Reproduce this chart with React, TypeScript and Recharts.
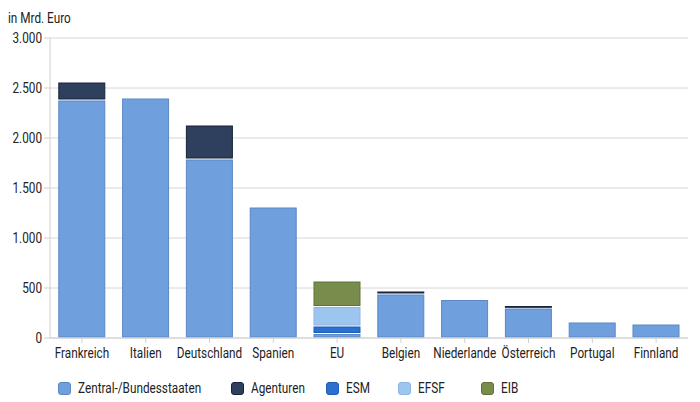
import { BarChart, Bar, XAxis, YAxis, CartesianGrid } from "recharts";

const categories = [
  "Frankreich",
  "Italien",
  "Deutschland",
  "Spanien",
  "EU",
  "Belgien",
  "Niederlande",
  "Österreich",
  "Portugal",
  "Finnland",
];
const zentral = [2380, 2400, 1790, 1310, 45, 440, 385, 300, 160, 140];
const agenturen = [180, 0, 340, 0, 0, 30, 0, 25, 0, 0];
const esm = [0, 0, 0, 0, 75, 0, 0, 0, 0, 0];
const efsf = [0, 0, 0, 0, 195, 0, 0, 0, 0, 0];
const eib = [0, 0, 0, 0, 255, 0, 0, 0, 0, 0];
const yTicks = [0, 500, 1000, 1500, 2000, 2500, 3000];

const series = [
  { key: "zentral", name: "Zentral-/Bundesstaaten", fill: "#6f9fdc", stroke: "#5a88c6" },
  { key: "agenturen", name: "Agenturen", fill: "#2f3f5e", stroke: "#17233a" },
  { key: "esm", name: "ESM", fill: "#2a6fd1", stroke: "#1f5cb3" },
  { key: "efsf", name: "EFSF", fill: "#9cc5f0", stroke: "#8ab6e6" },
  { key: "eib", name: "EIB", fill: "#788c4c", stroke: "#5f7238" },
];

const data = categories.map((name, i) => ({
  name,
  zentral: zentral[i],
  agenturen: agenturen[i],
  esm: esm[i],
  efsf: efsf[i],
  eib: eib[i],
}));

const FONT = "Roboto, 'DejaVu Sans', sans-serif";
const SQUEEZE = 0.84;

const fmt = (v: number) => v.toLocaleString("de-DE");

// Roboto horizontal gestaucht, damit es wie Roboto Condensed aussieht
const XTick = (props: any) => {
  const { x, y, payload } = props;
  return (
    <text
      transform={`translate(${x},${y + 13}) scale(${SQUEEZE},1)`}
      textAnchor="middle"
      fontSize={14}
      fontFamily={FONT}
      fill="#222"
    >
      {payload.value}
    </text>
  );
};

const YTick = (props: any) => {
  const { x, y, payload } = props;
  return (
    <text
      transform={`translate(${x},${y + 5}) scale(${SQUEEZE},1)`}
      textAnchor="end"
      fontSize={14}
      fontFamily={FONT}
      fill="#222"
    >
      {fmt(payload.value)}
    </text>
  );
};

const segment = (fill: string, stroke: string) => (props: any) => {
  const { x, y, width, height } = props;
  if (!height || height <= 0) return <g />;
  const h = Math.max(height - 2, 0.8);
  return (
    <rect
      x={x + 0.5}
      y={y + 1}
      width={width - 1}
      height={h}
      fill={fill}
      stroke={stroke}
      strokeWidth={1}
    />
  );
};

const squeezed = {
  display: "inline-block",
  transform: `scaleX(${SQUEEZE})`,
  transformOrigin: "left center",
};

const legendLeft = [58, 231, 326, 398, 481];

export default function App() {
  return (
    <div
      style={{
        position: "absolute",
        left: 0,
        top: 0,
        width: 700,
        height: 402,
        background: "#fff",
        fontFamily: FONT,
      }}
    >
      <div
        style={{
          position: "absolute",
          left: 8,
          top: 10,
          fontSize: 14,
          color: "#222",
          whiteSpace: "nowrap",
        }}
      >
        <span style={squeezed}>in Mrd. Euro</span>
      </div>
      <BarChart
        width={700}
        height={402}
        data={data}
        margin={{ top: 38, right: 12, bottom: 40, left: 0 }}
        barCategoryGap="13%"
      >
        <CartesianGrid vertical={false} stroke="#d6d6d6" />
        <XAxis
          dataKey="name"
          interval={0}
          tick={<XTick />}
          stroke="#d0d0d0"
          tickSize={5}
          height={24}
        />
        <YAxis
          domain={[0, 3000]}
          ticks={yTicks}
          tick={<YTick />}
          width={50}
          stroke="#d0d0d0"
          tickSize={6}
          tickMargin={2}
        />
        {series.map((s) => (
          <Bar
            key={s.key}
            dataKey={s.key}
            name={s.name}
            stackId="a"
            fill={s.fill}
            shape={segment(s.fill, s.stroke)}
            isAnimationActive={false}
          />
        ))}
      </BarChart>
      {series.map((s, i) => (
        <div
          key={s.key}
          style={{
            position: "absolute",
            left: legendLeft[i],
            top: 380,
            display: "flex",
            alignItems: "center",
            fontSize: 14,
            color: "#222",
            whiteSpace: "nowrap",
          }}
        >
          <span
            style={{
              display: "inline-block",
              width: 11,
              height: 11,
              borderRadius: 3,
              background: s.fill,
              border: `1px solid ${s.stroke}`,
              marginRight: 7,
            }}
          />
          <span style={squeezed}>{s.name}</span>
        </div>
      ))}
    </div>
  );
}
